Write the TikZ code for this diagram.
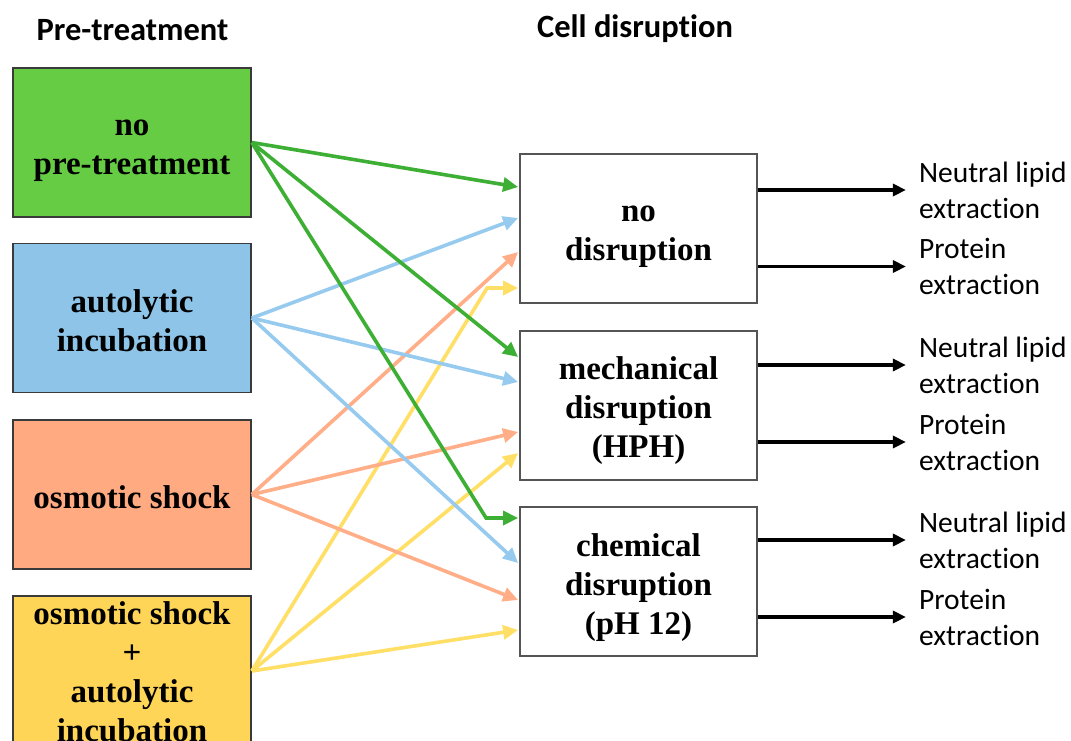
\documentclass[tikz,border=0pt]{standalone}
\usepackage{fontspec}
\setmainfont{Liberation Serif}
\newfontfamily\labelfont[Ligatures=NoCommon]{Carlito}
\usetikzlibrary{arrows.meta,calc}

\definecolor{grfill}{HTML}{66CC44}
\definecolor{grline}{HTML}{3DAF35}
\definecolor{blfill}{HTML}{8DC4E8}
\definecolor{blline}{HTML}{96CBEF}
\definecolor{orfill}{HTML}{FFAA80}
\definecolor{orline}{HTML}{FFAE88}
\definecolor{yefill}{HTML}{FFD557}
\definecolor{yeline}{HTML}{FFDF66}
\definecolor{boxline}{HTML}{3A3A3A}
\definecolor{midline}{HTML}{555555}

\begin{document}
\begin{tikzpicture}[x=1pt,y=-1pt,
  treat/.style={draw=boxline, line width=1.6pt, minimum width=238pt,
    minimum height=149pt, inner sep=0pt},
  disrupt/.style={draw=midline, fill=white, line width=1.8pt, minimum width=237pt,
    minimum height=149pt, inner sep=0pt},
  boxtext/.style={inner sep=0pt, align=center,
    font=\bfseries\fontsize{33}{39}\selectfont},
  header/.style={inner sep=0pt, font=\labelfont\bfseries\fontsize{32.5}{39}\selectfont},
  product/.style={anchor=west, inner sep=0pt, align=left,
    font=\labelfont\fontsize{29.5}{36}\selectfont},
  link/.style={line width=3.6pt, -{Triangle[length=15pt,width=14pt]}},
  glink/.style={link, draw=grline},
  blink/.style={link, draw=blline},
  olink/.style={link, draw=orline},
  ylink/.style={link, draw=yeline},
  outlink/.style={line width=3.4pt, draw=black, shorten >=13pt,
    -{Triangle[length=13pt,width=12pt]}}]

\clip (0,0) rectangle (1071,740);
\fill[white] (0,0) rectangle (1071,740);

% column headings
\node[header] (h1) at (132.5,30) {Pre-treatment};
\node[header] (h2) at (635,29) {Cell disruption};

% pre-treatment boxes
\node[treat, fill=grfill] (pg) at (132,142.5) {};
\node[treat, fill=blfill] (pb) at (132,318) {};
\node[treat, fill=orfill] (po) at (132,494.5) {};
\node[treat, fill=yefill, minimum height=150pt] (py) at (132,671) {};
\node[boxtext] (pgt) at ($(pg.center)+(0,8)$) {no\\pre-treatment};
\node[boxtext] (pbt) at ($(pb.center)+(0,3)$) {autolytic\\incubation};
\node[boxtext] (pot) at ($(po.center)+(0,3)$) {osmotic shock};
\node[boxtext] (pyt) at ($(py.center)+(0,1)$) {osmotic shock\\+\\autolytic\\incubation};

% disruption boxes
\node[disrupt] (dn) at (638.5,228.5) {};
\node[disrupt] (dm) at (638.5,405.5) {};
\node[disrupt] (dc) at (638.5,581.5) {};
\node[boxtext] (dnt) at ($(dn.center)+(0,8)$) {no\\disruption};
\node[boxtext] (dmt) at ($(dm.center)+(0,5)$) {mechanical\\disruption\\(HPH)};
\node[boxtext] (dct) at ($(dc.center)+(0,6)$) {chemical\\disruption\\(pH 12)};

% connections into "no disruption"
\draw[glink] (pg.east) -- ($(dn.west)+(-1,-41.5)$);
\draw[blink] (pb.east) -- ($(dn.west)+(-1,-10.5)$);
\draw[olink] (po.east) -- ($(dn.west)+(-1,23.5)$);
\draw[ylink] (py.east) -- ($(dn.west)+(-32,59.5)$) -- ($(dn.west)+(-1,59.5)$);

% connections into "mechanical disruption"
\draw[glink] (pg.east) -- ($(dm.west)+(-1,-48.5)$);
\draw[blink] (pb.east) -- ($(dm.west)+(-1,-23.5)$);
\draw[olink] (po.east) -- ($(dm.west)+(-1,26.5)$);
\draw[ylink] (py.east) -- ($(dm.west)+(-1,47.5)$);

% connections into "chemical disruption"
\draw[glink] (pg.east) -- ($(dc.west)+(-33,-63.5)$) -- ($(dc.west)+(-1,-63.5)$);
\draw[blink] (pb.east) -- ($(dc.west)+(-1,-18.5)$);
\draw[olink] (po.east) -- ($(dc.west)+(-1,18.5)$);
\draw[ylink] (py.east) -- ($(dc.west)+(-1,48.5)$);

% products of each disruption route
\node[product] (n1) at ($(dn.east)+(161,-38.5)$) {Neutral lipid\\extraction};
\node[product] (r1) at ($(dn.east)+(161,38)$) {Protein\\extraction};
\node[product] (n2) at ($(dm.east)+(161,-40.5)$) {Neutral lipid\\extraction};
\node[product] (r2) at ($(dm.east)+(161,36.5)$) {Protein\\extraction};
\node[product] (n3) at ($(dc.east)+(161,-41.5)$) {Neutral lipid\\extraction};
\node[product] (r3) at ($(dc.east)+(161,35.5)$) {Protein\\extraction};

\draw[outlink] (dn.east |- n1.west) -- (n1.west);
\draw[outlink] (dn.east |- r1.west) -- (r1.west);
\draw[outlink] (dm.east |- n2.west) -- (n2.west);
\draw[outlink] (dm.east |- r2.west) -- (r2.west);
\draw[outlink] (dc.east |- n3.west) -- (n3.west);
\draw[outlink] (dc.east |- r3.west) -- (r3.west);
\end{tikzpicture}
\end{document}
